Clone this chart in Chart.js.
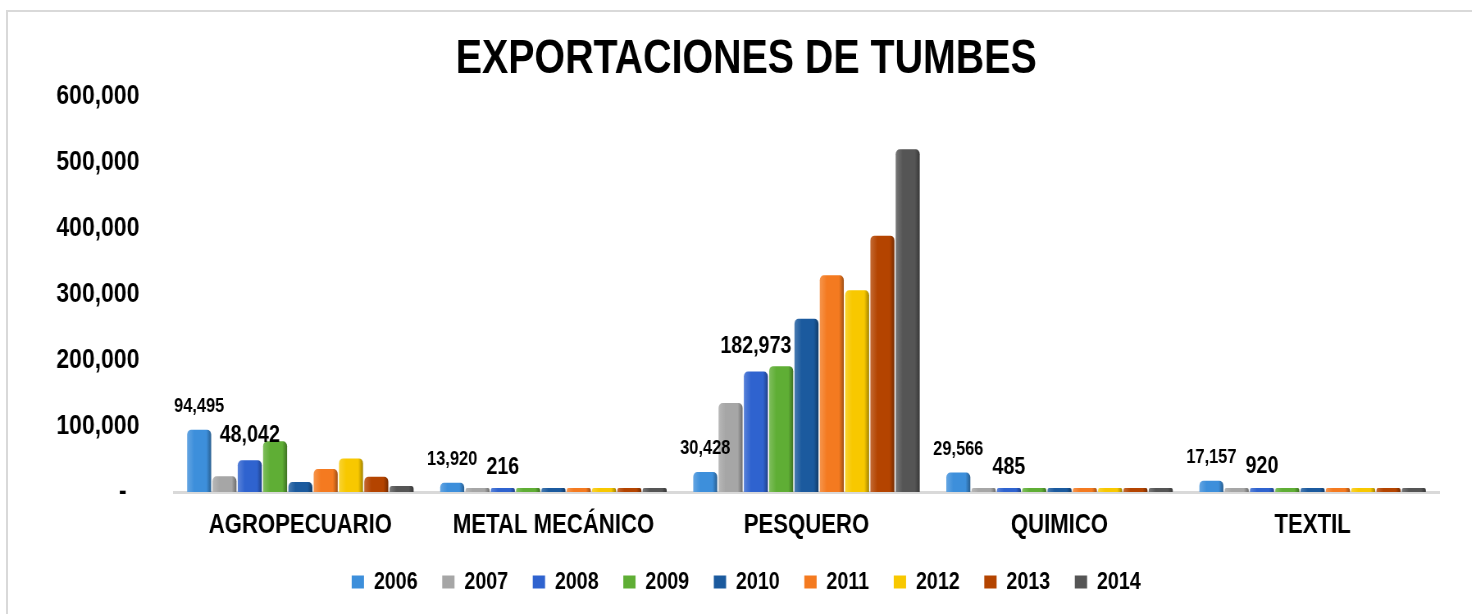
<!DOCTYPE html>
<html>
<head>
<meta charset="utf-8">
<script src="https://cdn.jsdelivr.net/npm/chart.js@4.4.1/dist/chart.umd.min.js"></script>
<style>
  html, body { margin: 0; padding: 0; background: #fff; overflow: hidden; }
  #frame { position: absolute; left: 6px; top: 10px; width: 1480px; height: 620px;
           border-left: 2px solid #d9d9d9; border-top: 2px solid #d9d9d9; }
  /* squeeze the canvas sideways so Liberation Sans reads like Arial Narrow */
  #wrap { position: absolute; left: 0; top: 0; width: 1795px; height: 614px;
          transform: scaleX(0.82); transform-origin: 0 0; }
</style>
</head>
<body>
<div id="frame"></div>
<div id="wrap"><canvas id="bars" width="1795" height="614"></canvas></div>
<script>
var FONT = "'Liberation Sans', Arial, sans-serif";

// data
var categories = ["AGROPECUARIO", "METAL MECÁNICO", "PESQUERO", "QUIMICO", "TEXTIL"];
var years = ["2006", "2007", "2008", "2009", "2010", "2011", "2012", "2013", "2014"];
var v2006 = [94495, 13920, 30428, 29566, 17157];
var v2007 = [24000, 300, 135000, 400, 600];
var v2008 = [48042, 216, 182973, 485, 920];
var v2009 = [77000, 300, 191000, 300, 400];
var v2010 = [15000, 250, 263000, 300, 400];
var v2011 = [35000, 500, 329000, 400, 500];
var v2012 = [51000, 1500, 306000, 300, 400];
var v2013 = [23000, 1000, 389000, 300, 1500];
var v2014 = [9000, 400, 520000, 300, 500];
var yTicks = [0, 100000, 200000, 300000, 400000, 500000, 600000];

var series = [v2006, v2007, v2008, v2009, v2010, v2011, v2012, v2013, v2014];
var colors = ['#3d8fdb', '#a6a6a6', '#2f63cf', '#5fae35', '#1b5a9e', '#f47a20', '#f8c800', '#b44400', '#555555'];
var labelled = { 0: 20, 2: 24 }; // datasets showing value labels -> font size

function shade(hex, f) { // f>0 lighter, f<0 darker
    var n = parseInt(hex.slice(1), 16);
    var r = n >> 16, g = (n >> 8) & 255, b = n & 255;
    function m(c) { return Math.round(f > 0 ? c + (255 - c) * f : c * (1 + f)); }
    return 'rgb(' + m(r) + ',' + m(g) + ',' + m(b) + ')';
}

// horizontal shine on each bar, like the 3D columns
var shine = {
    id: 'shine',
    beforeDatasetsDraw: function(chart) {
        var ctx = chart.ctx;
        chart.data.datasets.forEach(function(ds, i) {
            chart.getDatasetMeta(i).data.forEach(function(bar) {
                var l = bar.x - bar.width / 2, r = bar.x + bar.width / 2;
                var g = ctx.createLinearGradient(l, 0, r, 0);
                g.addColorStop(0, shade(colors[i], 0.2));
                g.addColorStop(0.3, colors[i]);
                g.addColorStop(0.8, colors[i]);
                g.addColorStop(1, shade(colors[i], -0.35));
                bar.options = Object.assign({}, bar.options, { backgroundColor: g });
            });
        });
    }
};

var valueLabels = {
    id: 'valueLabels',
    afterDatasetsDraw: function(chart) {
        var ctx = chart.ctx;
        ctx.save();
        ctx.fillStyle = '#000';
        ctx.textAlign = 'center';
        ctx.textBaseline = 'alphabetic';
        Object.keys(labelled).forEach(function(k) {
            var i = +k;
            ctx.font = 'bold ' + labelled[k] + 'px ' + FONT;
            chart.getDatasetMeta(i).data.forEach(function(bar, j) {
                var y = chart.scales.y.getPixelForValue(series[i][j]);
                ctx.fillText(series[i][j].toLocaleString('en-US'), bar.x, y - 18);
            });
        });
        ctx.restore();
    }
};

var datasets = years.map(function(y, i) {
    return {
        label: y,
        data: series[i],
        backgroundColor: colors[i],
        borderRadius: { topLeft: 5, topRight: 5 },
        borderSkipped: 'bottom',
        minBarLength: 4,
        categoryPercentage: 0.9,
        barPercentage: 0.95
    };
});

new Chart(document.getElementById('bars').getContext('2d'), {
    type: 'bar',
    data: { labels: categories, datasets: datasets },
    options: {
        responsive: false,
        animation: false,
        layout: { padding: { left: 65, right: 40, top: 10, bottom: 10 } },
        plugins: {
            title: {
                display: true,
                text: 'EXPORTACIONES DE TUMBES',
                color: '#000',
                font: { family: FONT, size: 48, weight: 'bold' },
                padding: { top: 21, bottom: 8 }
            },
            legend: {
                position: 'bottom',
                labels: {
                    color: '#000',
                    font: { family: FONT, size: 24, weight: 'bold' },
                    boxWidth: 15,
                    boxHeight: 13,
                    padding: 10,
                    generateLabels: function(chart) {
                        var items = Chart.defaults.plugins.legend.labels.generateLabels(chart);
                        return items.map(function(it, k) {
                            if (k < items.length - 1) it.text = it.text + '   ';
                            return it;
                        });
                    }
                }
            },
            tooltip: { enabled: false }
        },
        scales: {
            x: {
                afterFit: function(s) { s.height = 68; },
                grid: { display: false, drawTicks: false },
                border: { color: '#d9d9d9', width: 3 },
                ticks: { color: '#000', padding: 17, autoSkip: false, maxRotation: 0,
                         font: { family: FONT, size: 27, weight: 'bold' } }
            },
            y: {
                min: 0,
                max: 600000,
                afterFit: function(s) { s.width = 147; },
                afterBuildTicks: function(scale) { scale.ticks = yTicks.map(function(v) { return { value: v }; }); },
                grid: { display: false, drawTicks: false },
                border: { display: false },
                ticks: {
                    color: '#000',
                    padding: 42,
                    font: { family: FONT, size: 28, weight: 'bold' },
                    callback: function(v) { return v === 0 ? '-  ' : v.toLocaleString('en-US'); }
                }
            }
        }
    },
    plugins: [shine, valueLabels]
});
</script>
</body>
</html>
